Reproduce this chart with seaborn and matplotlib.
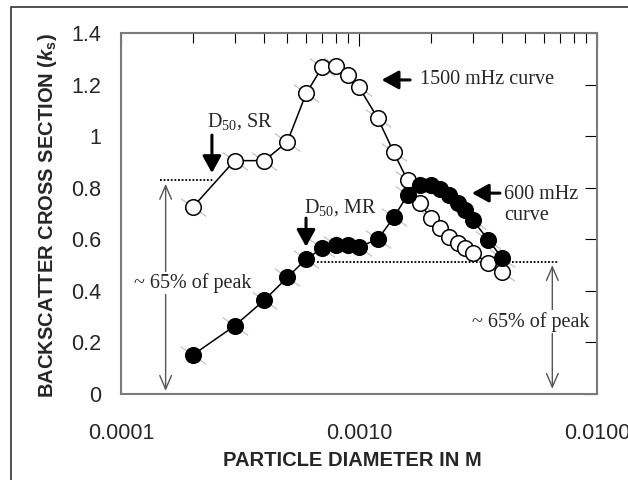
import numpy as np
import pandas as pd
import matplotlib
matplotlib.use("Agg")
import matplotlib.pyplot as plt
from matplotlib.patches import Rectangle
from matplotlib.ticker import FixedLocator, NullFormatter, FixedFormatter
import seaborn as sns

# ---------------- data ----------------
diam = [2e-4, 3e-4, 4e-4, 5e-4, 6e-4, 7e-4, 8e-4, 9e-4, 1.0e-3, 1.2e-3, 1.4e-3,
        1.6e-3, 1.8e-3, 2.0e-3, 2.2e-3, 2.4e-3, 2.6e-3, 2.8e-3, 3.0e-3, 3.5e-3, 4.0e-3]
ks_1500 = [0.724, 0.905, 0.905, 0.978, 1.166, 1.267, 1.273, 1.237, 1.19, 1.069, 0.937,
           0.828, 0.742, 0.681, 0.642, 0.610, 0.584, 0.565, 0.548, 0.507, 0.474]
ks_600 = [0.151, 0.264, 0.364, 0.452, 0.524, 0.565, 0.578, 0.578, 0.571, 0.600, 0.685,
          0.772, 0.810, 0.810, 0.794, 0.772, 0.739, 0.713, 0.675, 0.597, 0.526]
yticks = [0, 0.2, 0.4, 0.6, 0.8, 1.0, 1.2, 1.4]
ytick_labels = ["0", "0.2", "0.4", "0.6", "0.8", "1", "1.2", "1.4"]
xticks_major = [1e-4, 1e-3, 1e-2]
xtick_labels = ["0.0001", "0.0010", "0.0100"]
sr_level = 0.83
mr_level = 0.513

df1 = pd.DataFrame({"d": diam, "ks": ks_1500})
df2 = pd.DataFrame({"d": diam, "ks": ks_600})

# ---------------- style ----------------
sns.set_style("white")
plt.rcParams["font.family"] = ["Liberation Sans", "DejaVu Sans"]
plt.rcParams["mathtext.fontset"] = "custom"
plt.rcParams["mathtext.rm"] = "Liberation Serif"
plt.rcParams["mathtext.it"] = "Liberation Sans:italic:bold"
plt.rcParams["mathtext.bf"] = "Liberation Sans:bold"

fig = plt.figure(figsize=(6.28, 4.80), dpi=100)
ax = fig.add_axes([121/628, 1-394/480, 476/628, 361/480])

serif = ["Liberation Serif", "DejaVu Serif"]

# faint diagonal streaks behind markers
for df in (df1, df2):
    ax.plot(df["d"], df["ks"], ls="none", marker=(2, 2, 55), markersize=22,
            markeredgecolor="#cccccc", markeredgewidth=0.7, zorder=1)

sns.lineplot(data=df1, x="d", y="ks", ax=ax, color="black", lw=1.1, marker="o",
             markersize=11.2, markerfacecolor="white", markeredgecolor="black",
             markeredgewidth=1.1, zorder=3)
sns.lineplot(data=df2, x="d", y="ks", ax=ax, color="black", lw=1.1, marker="o",
             markersize=11.2, markerfacecolor="black", markeredgecolor="black",
             markeredgewidth=1.1, zorder=4)

ax.set_xscale("log")
ax.set_xlim(1e-4, 1e-2)
ax.set_ylim(0, 1.4)
ax.xaxis.set_major_locator(FixedLocator(xticks_major))
ax.xaxis.set_major_formatter(FixedFormatter(xtick_labels))
minor = [m * 10.0**e for e in (-4, -3) for m in range(2, 10)]
ax.xaxis.set_minor_locator(FixedLocator(minor))
ax.xaxis.set_minor_formatter(NullFormatter())
ax.set_yticks(yticks)
ax.set_yticklabels(ytick_labels)

for s in ax.spines.values():
    s.set_color("#7a7a7a")
    s.set_linewidth(1.5)
ax.tick_params(axis="both", which="both", direction="in", top=True, right=True,
               color="black", width=0.8, labelsize=15.5)
ax.tick_params(axis="y", which="major", length=9, pad=14)
ax.tick_params(axis="x", which="major", length=9, pad=21)
ax.tick_params(axis="x", which="minor", length=7)

ax.set_xlabel("PARTICLE DIAMETER IN M", fontsize=14.5, fontweight="bold", va="center")
ax.xaxis.set_label_coords(0.487, -0.183)
ax.set_ylabel(r"BACKSCATTER CROSS SECTION ($\mathit{k}_{\mathbf{s}}$)", fontsize=14.5,
              fontweight="bold", va="center")
ax.yaxis.set_label_coords(-0.155, 0.495)

# ---------------- annotations ----------------
dot = dict(color="black", lw=1.3, ls=(0, (1, 1)), zorder=2)
ax.plot([1.46e-4, 2.44e-4], [sr_level, sr_level], **dot)
ax.plot([6.64e-4, 6.86e-3], [mr_level, mr_level], **dot)

thin = dict(arrowstyle="<->,head_length=0.7,head_width=0.3", color="#555555", lw=1.0,
            shrinkA=0, shrinkB=0, mutation_scale=14)
ax.annotate("", xy=(1.54e-4, 0.012), xytext=(1.54e-4, 0.815), arrowprops=thin, zorder=2)
ax.annotate("", xy=(6.49e-3, 0.02), xytext=(6.49e-3, 0.50), arrowprops=thin, zorder=2)

box = dict(facecolor="white", edgecolor="none", pad=1.0)
ax.text(2.0e-4, 0.43, "~ 65% of peak", family=serif, fontsize=14.5, ha="center",
        va="center", bbox=box, zorder=5)
ax.text(5.27e-3, 0.28, "~ 65% of peak", family=serif, fontsize=14.5, ha="center",
        va="center", bbox=box, zorder=5)

thick = dict(arrowstyle="-|>,head_length=0.6,head_width=0.33", color="black", lw=2.2,
             shrinkA=0, shrinkB=0, mutation_scale=17)
ax.text(3.16e-4, 1.055, r"D$_{\mathrm{50}}$, SR", family=serif, fontsize=14.5,
        ha="center", va="center")
ax.annotate("", xy=(2.41e-4, 0.857), xytext=(2.41e-4, 1.004), arrowprops=thick)
ax.text(8.32e-4, 0.725, r"D$_{\mathrm{50}}$, MR", family=serif, fontsize=14.5,
        ha="center", va="center")
ax.annotate("", xy=(5.99e-4, 0.571), xytext=(5.99e-4, 0.682), arrowprops=thick)

ax.text(1.80e-3, 1.218, "1500 mHz curve", family=serif, fontsize=14.5, ha="left",
        va="center")
ax.annotate("", xy=(1.245e-3, 1.218), xytext=(1.64e-3, 1.218), arrowprops=thick)
ax.text(4.07e-3, 0.733, "600 mHz\ncurve", family=serif, fontsize=14.5, ha="left",
        va="center", linespacing=1.15)
ax.annotate("", xy=(2.98e-3, 0.779), xytext=(3.91e-3, 0.779), arrowprops=thick)

# outer frame
fig.add_artist(Rectangle((11/628, -0.5), 2.0, 0.5 + 1 - 7/480, transform=fig.transFigure,
                         fill=False, edgecolor="#333333", lw=1.2, clip_on=False))

fig.savefig("out.png", dpi=100)
